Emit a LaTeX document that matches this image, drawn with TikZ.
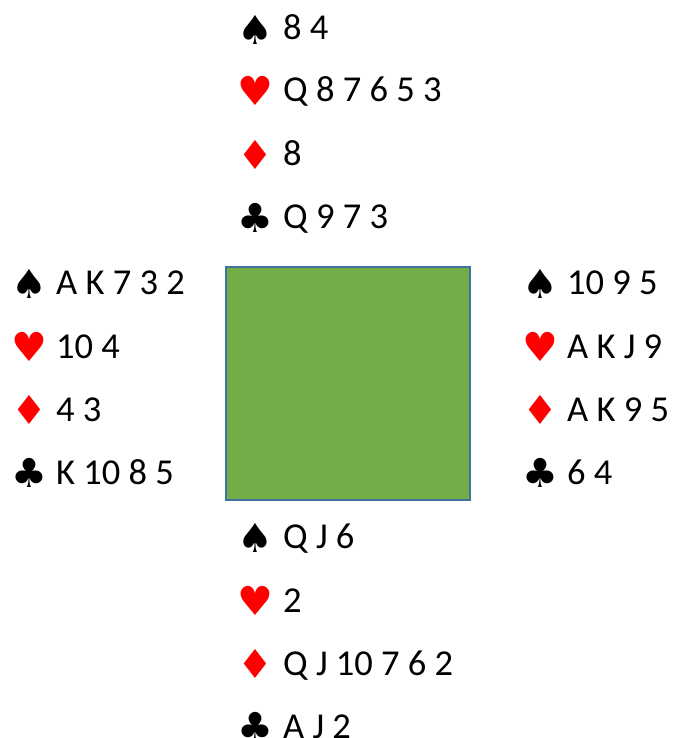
\documentclass[tikz,border=0pt]{standalone}
\usepackage{fontspec}
\setmainfont{Carlito}
\newfontfamily\suitfont{DejaVu Sans}
\definecolor{feltgreen}{HTML}{70AD47}
\definecolor{feltborder}{HTML}{41719C}
\definecolor{suitred}{HTML}{FF0000}
\tikzset{
  cards/.style={anchor=base west, inner sep=0pt, font=\fontsize{36.5}{36.5}\selectfont},
  suitsym/.style={anchor=center, inner sep=0pt, font=\suitfont\fontsize{40}{40}\selectfont},
  blacksuit/.style={suitsym, text=black},
  redsuit/.style={suitsym, text=suitred},
}
\begin{document}
\begin{tikzpicture}[x=1pt,y=-1pt]
\useasboundingbox (0,0) rectangle (672,738);
\fill[white] (0,0) rectangle (672,738);
% table
\node[draw=feltborder, line width=2pt, fill=feltgreen, minimum width=244pt, minimum height=233pt, inner sep=0pt, anchor=north west] (table) at (225,266) {};
% North
\node[blacksuit] (nsS) at (255.5,29.5) {♠};
\node[cards] (nS) at (283,40) {8 4};
\node[redsuit] (nsH) at (255.5,90.5) {♥};
\node[cards] (nH) at (283,102) {Q 8 7 6 5 3};
\node[redsuit] (nsD) at (255.5,154.5) {♦};
\node[cards] (nD) at (283,166) {8};
\node[blacksuit] (nsC) at (255.5,217.5) {♣};
\node[cards] (nC) at (283,228) {Q 9 7 3};
% West
\node[blacksuit] (wsS) at (29,283.5) {♠};
\node[cards] (wS) at (56,294) {A K 7 3 2};
\node[redsuit] (wsH) at (29,346.5) {♥};
\node[cards] (wH) at (56,358) {10 4};
\node[redsuit] (wsD) at (29,410) {♦};
\node[cards] (wD) at (56,421) {4 3};
\node[blacksuit] (wsC) at (29,473) {♣};
\node[cards] (wC) at (56,484) {K 10 8 5};
% East
\node[blacksuit] (esS) at (540,283.5) {♠};
\node[cards] (eS) at (567,294) {10 9 5};
\node[redsuit] (esH) at (540,346.5) {♥};
\node[cards] (eH) at (567,358) {A K J 9};
\node[redsuit] (esD) at (540,410) {♦};
\node[cards] (eD) at (567,421) {A K 9 5};
\node[blacksuit] (esC) at (540,473) {♣};
\node[cards] (eC) at (567,484) {6 4};
% South
\node[blacksuit] (ssS) at (255.5,537.5) {♠};
\node[cards] (sS) at (283,548) {Q J 6};
\node[redsuit] (ssH) at (255.5,600.5) {♥};
\node[cards] (sH) at (283,612) {2};
\node[redsuit] (ssD) at (255.5,664) {♦};
\node[cards] (sD) at (283,675) {Q J 10 7 6 2};
\node[blacksuit] (ssC) at (255.5,727) {♣};
\node[cards] (sC) at (283,738) {A J 2};
\end{tikzpicture}
\end{document}
